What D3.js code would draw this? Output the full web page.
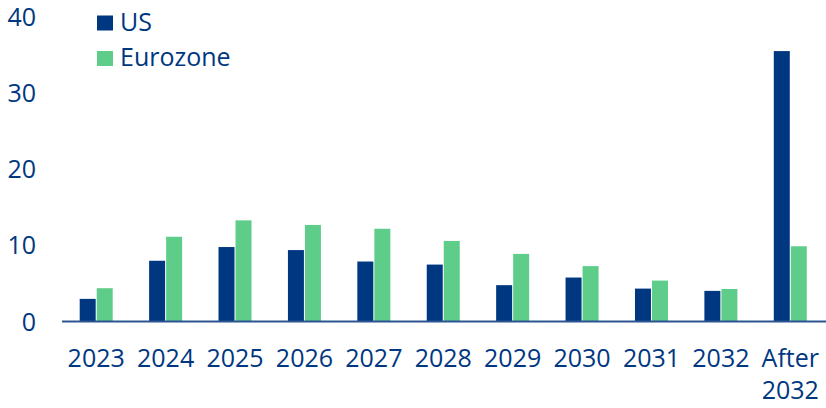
<!DOCTYPE html>
<html>
<head>
<meta charset="utf-8">
<script src="https://cdnjs.cloudflare.com/ajax/libs/d3/7.8.5/d3.min.js"></script>
<style>
  body { margin: 0; background: #fff; }
  svg { display: block; font-family: "Open Sans", sans-serif; }
</style>
</head>
<body>
<script>
var width = 826;
var height = 408;

var categories = ["2023", "2024", "2025", "2026", "2027", "2028", "2029", "2030", "2031", "2032", "After 2032"];
var usValues = [2.9, 7.9, 9.7, 9.3, 7.8, 7.4, 4.7, 5.7, 4.25, 3.95, 35.4];
var ezValues = [4.3, 11.05, 13.2, 12.6, 12.1, 10.5, 8.8, 7.2, 5.3, 4.2, 9.8];
var seriesNames = ["US", "Eurozone"];
var seriesColors = ["#003781", "#5fcd8a"];
var yTicks = [0, 10, 20, 30, 40];

var textColor = "#003781";

var svg = d3.select("body")
  .append("svg")
  .attr("width", width)
  .attr("height", height);

var x0 = d3.scaleBand()
  .domain(categories)
  .range([61.5, 825])
  .paddingInner(0.495)
  .paddingOuter(0.2475);

var x1 = d3.scaleBand()
  .domain(seriesNames)
  .range([0, x0.bandwidth()])
  .padding(0.06);

var y = d3.scaleLinear()
  .domain([0, 40])
  .range([321, 16]);

var rows = categories.map(function(c, i) {
  return {cat: c, vals: [usValues[i], ezValues[i]]};
});

// bars
var groups = svg.selectAll("g.grp")
  .data(rows)
  .enter()
  .append("g")
  .attr("class", "grp")
  .attr("transform", function(d) { return "translate(" + x0(d.cat) + ",0)"; });

groups.selectAll("rect")
  .data(function(d) { return d.vals.map(function(v, j) { return {name: seriesNames[j], v: v, j: j}; }); })
  .enter()
  .append("rect")
  .attr("x", function(d) { return x1(d.name); })
  .attr("width", x1.bandwidth())
  .attr("y", function(d) { return y(d.v); })
  .attr("height", function(d) { return y(0) - y(d.v); })
  .attr("fill", function(d) { return seriesColors[d.j]; });

// baseline
svg.append("line")
  .attr("x1", 62)
  .attr("x2", 826)
  .attr("y1", y(0) + 0.5)
  .attr("y2", y(0) + 0.5)
  .attr("stroke", "#2c5491")
  .attr("stroke-width", 2);

// y axis labels
var yAxis = d3.axisLeft(y).tickValues(yTicks).tickSize(0).tickPadding(0);
var yg = svg.append("g")
  .attr("transform", "translate(36,1)")
  .call(yAxis);
yg.select(".domain").remove();
yg.selectAll("text")
  .attr("fill", textColor)
  .style("font-size", "25px")
  .style("font-family", "Open Sans, sans-serif");

// x axis labels
var xAxis = d3.axisBottom(x0).tickSize(0).tickPadding(0);
var xg = svg.append("g")
  .attr("transform", "translate(0," + 349 + ")")
  .call(xAxis);
xg.select(".domain").remove();
xg.selectAll("text")
  .attr("fill", textColor)
  .style("font-size", "25px")
  .style("font-family", "Open Sans, sans-serif")
  .each(function(d) {
    var words = d.split(" ");
    if (words.length > 1) {
      var t = d3.select(this).text(null);
      words.forEach(function(w, k) {
        t.append("tspan")
          .attr("x", 0)
          .attr("dy", k === 0 ? "0.71em" : "1.3em")
          .text(w);
      });
    }
  });

// legend
var legend = svg.selectAll("g.leg")
  .data(seriesNames)
  .enter()
  .append("g")
  .attr("class", "leg")
  .attr("transform", function(d, i) { return "translate(97," + (15.5 + i * 35.5) + ")"; });

legend.append("rect")
  .attr("width", 16)
  .attr("height", 15)
  .attr("fill", function(d, i) { return seriesColors[i]; });

legend.append("text")
  .attr("x", 23)
  .attr("y", 15)
  .attr("fill", textColor)
  .style("font-size", "25px")
  .text(function(d) { return d; });
</script>
</body>
</html>
